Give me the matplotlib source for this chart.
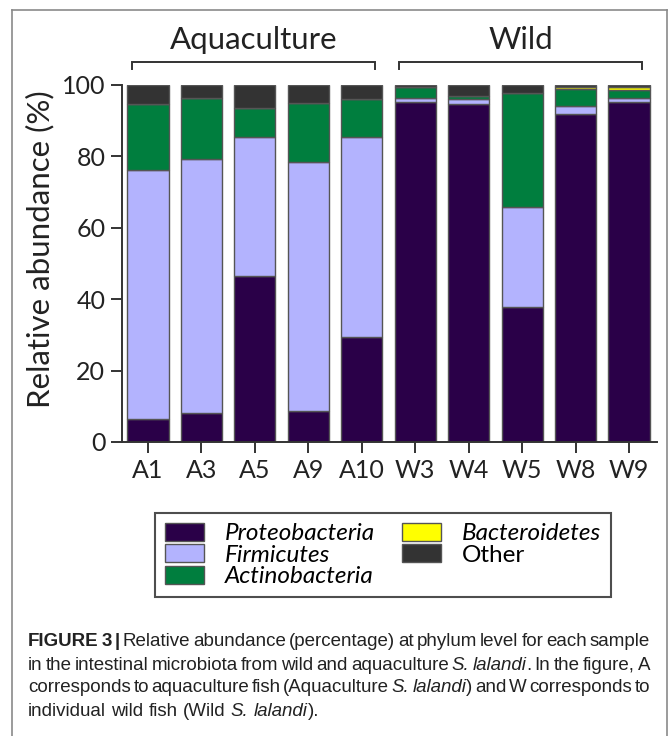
import matplotlib
matplotlib.use("Agg")
import matplotlib.pyplot as plt
from matplotlib.patches import Patch
from matplotlib.lines import Line2D
import numpy as np

samples = ["A1", "A3", "A5", "A9", "A10", "W3", "W4", "W5", "W8", "W9"]
proteobacteria = [6.4, 8.2, 46.4, 8.7, 29.5, 95.3, 94.8, 37.9, 92.0, 95.3]
firmicutes = [69.9, 71.2, 38.9, 69.8, 56.0, 1.1, 1.3, 28.0, 2.1, 1.0]
actinobacteria = [18.5, 16.9, 8.3, 16.4, 10.5, 3.0, 0.7, 31.9, 4.7, 2.2]
bacteroidetes = [0, 0, 0, 0, 0, 0, 0, 0, 0.5, 1.0]
other = [5.2, 3.7, 6.4, 5.1, 4.0, 0.6, 3.2, 2.2, 0.7, 0.5]

phyla = ["Proteobacteria", "Firmicutes", "Actinobacteria", "Bacteroidetes", "Other"]
colors = ["#2a0048", "#b3b3fe", "#007e3e", "#ffff00", "#333333"]
groups = [("Aquaculture", 0, 4), ("Wild", 5, 9)]

W, H = 669, 736
fig = plt.figure(figsize=(W / 100, H / 100), dpi=100)
fig.patch.set_facecolor("white")

def fx(x):
    return x / W

def fy(y):
    return 1 - y / H

# outer frame of the figure panel
for xs, ys in [([12, 12], [10, 740]), ([12, 667], [10, 10]), ([667, 667], [10, 740])]:
    fig.add_artist(Line2D([fx(v) for v in xs], [fy(v) for v in ys],
                          color="#8a8a8a", lw=1.2))

ax = fig.add_axes([fx(122), fy(442), fx(657) - fx(122), fy(85) - fy(442)])
x = np.arange(len(samples))
series = [proteobacteria, firmicutes, actinobacteria, bacteroidetes, other]
bottom = np.zeros(len(samples))
for vals, col in zip(series, colors):
    vals = np.array(vals, dtype=float)
    ax.bar(x, vals, bottom=bottom, width=0.77, color=col,
           edgecolor="#555555", linewidth=1.0)
    bottom += vals

ax.set_xlim(-0.486, 9.524)
ax.set_ylim(0, 100)
ax.set_yticks([0, 20, 40, 60, 80, 100])
ax.set_xticks(x)
ax.set_xticklabels(samples)
for s in ["top", "right"]:
    ax.spines[s].set_visible(False)
for s in ["left", "bottom"]:
    ax.spines[s].set_color("#333333")
    ax.spines[s].set_linewidth(1.4)
ax.tick_params(axis="both", length=8, width=1.4, color="#333333",
               labelsize=18, pad=4, labelcolor="#222222")
for lab in ax.get_xticklabels() + ax.get_yticklabels():
    lab.set_family("Lato")
ax.set_ylabel("Relative abundance (%)", family="Lato", fontsize=22.5,
              color="#222222")
ax.yaxis.set_label_coords(-0.127, 0.54)

# group brackets above the bars
for name, i0, i1 in groups:
    xl, xr = i0 - 0.3, i1 + 0.25
    ax.plot([xl, xl, xr, xr], [104.4, 106.4, 106.4, 104.4], color="#333333",
            lw=1.4, clip_on=False, solid_joinstyle="miter")
    ax.text((xl + xr) / 2, 108.6, name, ha="center", va="bottom",
            family="Lato", fontsize=22.5, color="#222222", clip_on=False)

handles = [Patch(facecolor=c, edgecolor="#555555", linewidth=1.0) for c in colors]
leg = fig.legend(handles, phyla, ncol=2, loc="center",
                 bbox_to_anchor=(fx(383), fy(555)),
                 prop={"family": "Lato", "style": "italic", "size": 17.5},
                 frameon=True, fancybox=False, edgecolor="#222222",
                 handlelength=1.6, handleheight=0.78, handletextpad=0.86,
                 labelspacing=0.0, columnspacing=1.1, borderpad=0.4)
leg.get_frame().set_linewidth(1.5)
leg.get_texts()[-1].set_style("normal")

# caption with mixed styles, justified lines
cap_lines = [
    [("FIGURE 3 |", "bold"), ("Relative abundance (percentage) at phylum level for each sample", "normal")],
    [("in the intestinal microbiota from wild and aquaculture", "normal"), ("S. lalandi", "italic"),
     (". In the figure, A", "glue")],
    [("corresponds to aquaculture fish (Aquaculture", "normal"), ("S. lalandi", "italic"),
     (") and W corresponds to", "glue")],
    [("individual wild fish (Wild", "normal"), ("S. lalandi", "italic"), (").", "glue")],
]
cap_y = [642, 665, 688, 711]
x_left, x_right = 28, 650
renderer = fig.canvas.get_renderer()
cap_font = dict(family="Liberation Sans", fontsize=13.5, color="#222222")

def make_word(word, style):
    kw = dict(cap_font)
    if style == "bold":
        kw["weight"] = "bold"
    if style == "italic":
        kw["style"] = "italic"
    t = fig.text(0, 0, word, ha="left", va="center", **kw)
    return t, t.get_window_extent(renderer).width

# width of a plain space, measured on throwaway texts
probe_a, wa = make_word("a a", "normal")
probe_b, wb = make_word("aa", "normal")
space_w = wa - wb
probe_a.remove()
probe_b.remove()

for k, (line, yy) in enumerate(zip(cap_lines, cap_y)):
    words = []  # (text artist, width, glued_to_previous)
    for chunk, style in line:
        glue = style == "glue"
        st = "normal" if glue else style
        parts = chunk.split(" ")
        for j, p in enumerate(parts):
            if p == "":
                continue
            t, w = make_word(p, st)
            words.append((t, w, glue and j == 0))
    total = sum(w for _, w, _ in words)
    gaps = sum(1 for _, _, g in words[1:] if not g)
    if k < len(cap_lines) - 1 and gaps:
        gap = (x_right - x_left - total) / gaps
    else:
        gap = space_w
    cx = x_left
    for idx, (t, w, g) in enumerate(words):
        if idx > 0 and not g:
            cx += gap
        t.set_position((fx(cx), fy(yy)))
        cx += w

fig.savefig("out.png", dpi=100, facecolor="white")
